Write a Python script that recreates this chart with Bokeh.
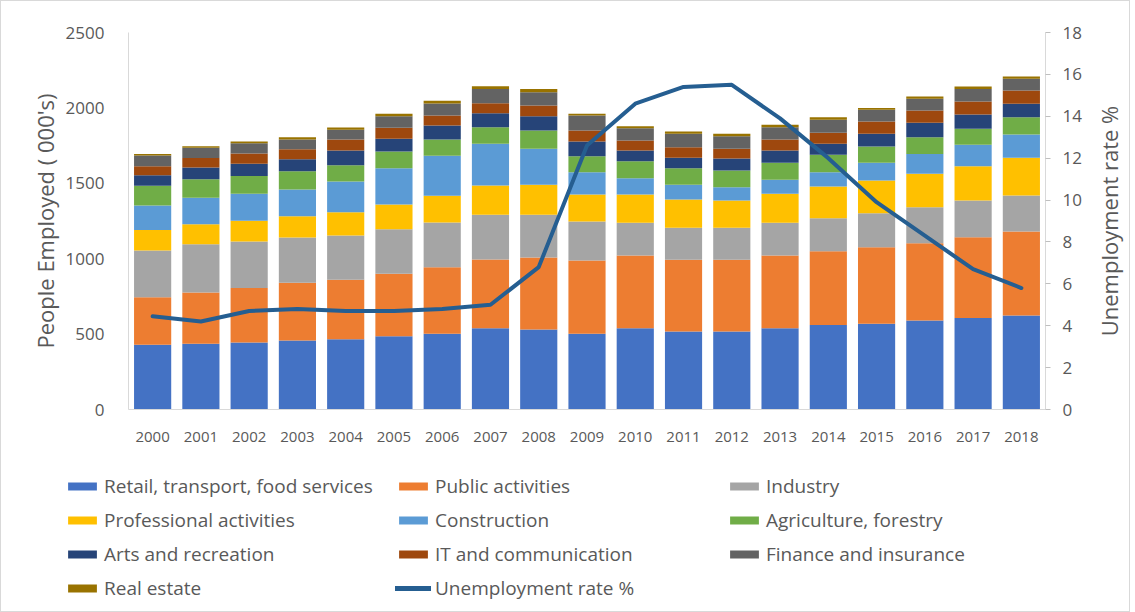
from bokeh.plotting import figure
from bokeh.layouts import column, row
from bokeh.models import (Range1d, LinearAxis, FactorRange, Legend, LegendItem,
                          ColumnDataSource, Title)
from bokeh.embed import file_html
from bokeh.resources import INLINE

years = [str(y) for y in range(2000, 2019)]

retail = [429, 436, 444, 458, 466, 486, 502, 539, 530, 502, 539, 517, 517, 539, 561, 568, 590, 606, 623]
public = [316, 340, 361, 382, 394, 414, 442, 456, 478, 486, 482, 476, 476, 482, 489, 508, 513, 537, 557]
industry = [309, 320, 309, 301, 294, 296, 296, 296, 283, 259, 217, 212, 212, 217, 219, 226, 239, 243, 239]
professional = [137, 133, 137, 141, 154, 163, 177, 194, 199, 179, 188, 188, 181, 192, 210, 216, 221, 227, 250]
construction = [162, 175, 179, 177, 204, 241, 265, 277, 239, 148, 108, 97, 88, 93, 95, 118, 132, 142, 155]
agriculture = [130, 123, 119, 121, 108, 111, 108, 110, 121, 106, 113, 110, 111, 113, 115, 108, 111, 106, 114]
arts = [71, 78, 80, 80, 97, 84, 93, 93, 95, 97, 70, 69, 79, 81, 73, 84, 95, 95, 89]
it_comm = [59, 62, 69, 66, 73, 73, 67, 66, 71, 73, 67, 70, 65, 73, 73, 82, 82, 86, 88]
finance = [71, 68, 68, 64, 65, 77, 79, 95, 88, 100, 81, 89, 83, 82, 86, 77, 77, 84, 78]
real_estate = [11, 11, 11, 16, 15, 16, 18, 18, 22, 11, 14, 15, 16, 16, 17, 13, 15, 16, 15]

unemployment = [4.45, 4.2, 4.7, 4.8, 4.7, 4.7, 4.8, 5.0, 6.8, 12.6, 14.6, 15.4, 15.5, 13.9, 12.0, 9.9, 8.3, 6.7, 5.8]

series_keys = ["retail", "public", "industry", "professional", "construction",
               "agriculture", "arts", "it", "finance", "realestate"]
series_labels = ["Retail, transport, food services", "Public activities", "Industry",
                 "Professional activities", "Construction", "Agriculture, forestry",
                 "Arts and recreation", "IT and communication", "Finance and insurance",
                 "Real estate"]
series_colors = ["#4472C4", "#ED7D31", "#A5A5A5", "#FFC000", "#5B9BD5",
                 "#70AD47", "#264478", "#9E480E", "#636363", "#997300"]
line_label = "Unemployment rate %"
line_color = "#255E91"

left_ticks = [0, 500, 1000, 1500, 2000, 2500]
right_ticks = [0, 2, 4, 6, 8, 10, 12, 14, 16, 18]

data = dict(years=years, retail=retail, public=public, industry=industry,
            professional=professional, construction=construction,
            agriculture=agriculture, arts=arts, it=it_comm, finance=finance,
            realestate=real_estate, rate=unemployment)
src = ColumnDataSource(data)

FONT = "Open Sans"
GREY = "#595959"
W = 1128
PW = 1090
H = 452

xr = FactorRange(factors=years, range_padding=0)
p = figure(width=PW, height=H, x_range=xr,
           y_range=Range1d(0, 2500), output_backend="svg", toolbar_location=None,
           min_border_left=127, min_border_right=46, min_border_top=31, min_border_bottom=44)
p.frame_align = False
p.outline_line_color = None
p.xgrid.grid_line_color = None
p.ygrid.grid_line_color = None

p.vbar_stack(series_keys, x="years", width=0.77, source=src,
             color=series_colors, line_color=None)

p.extra_y_ranges = {"u": Range1d(0, 18)}
p.line(x="years", y="rate", source=src, y_range_name="u", line_color=line_color,
       line_width=4, line_cap="round", line_join="round")

# left axis
ya = p.yaxis[0]
ya.ticker = left_ticks
ya.axis_label = "People Employed ( 000's)"
ya.axis_label_text_font = FONT
ya.axis_label_text_font_size = "22px"
ya.axis_label_text_font_style = "normal"
ya.axis_label_text_color = GREY
ya.axis_label_standoff = 3
ya.major_label_text_font = FONT
ya.major_label_text_font_size = "17px"
ya.major_label_text_color = GREY
ya.major_label_standoff = 18
ya.axis_line_color = "#d9d9d9"
ya.major_tick_line_color = None
ya.minor_tick_line_color = None

# right axis (its title is drawn in the narrow panel to the right, reading upwards)
ra = LinearAxis(y_range_name="u", ticker=right_ticks)
ra.major_label_text_font = FONT
ra.major_label_text_font_size = "17px"
ra.major_label_text_color = GREY
ra.major_label_standoff = 12
ra.axis_line_color = "#d9d9d9"
ra.major_tick_line_color = "#bfbfbf"
ra.major_tick_in = 0
ra.major_tick_out = 5
ra.minor_tick_line_color = None
p.add_layout(ra, "right")

# x axis
xa = p.xaxis[0]
xa.major_label_text_font = FONT
xa.major_label_text_font_size = "15px"
xa.major_label_text_color = GREY
xa.major_label_standoff = 16
xa.axis_line_color = "#d9d9d9"
xa.major_tick_line_color = None
xa.minor_tick_line_color = None

# right-axis title panel
rf = figure(width=W - PW, height=H, output_backend="svg", toolbar_location=None,
            min_border_left=0, min_border_right=0, min_border_top=31, min_border_bottom=44)
rf.frame_align = False
rf.outline_line_color = None
rf.axis.visible = False
rf.grid.visible = False
rf.add_layout(Title(text=line_label, align="center", text_font=FONT, text_font_size="22px",
                    text_font_style="normal", text_color=GREY, standoff=0, offset=0), "left")

# legend panel: same series as hidden renderers, only their legend swatches show
lg = figure(width=W, height=158, x_range=xr, y_range=Range1d(0, 2500), output_backend="svg",
            toolbar_location=None, min_border=0)
lg.frame_align = False
lg.outline_line_color = None
lg.axis.visible = False
lg.grid.visible = False
sw = lg.vbar_stack(series_keys, x="years", width=0.77, source=src,
                   color=series_colors, line_color=None)
sw_line = lg.line(x="years", y="rate", source=src, line_color=line_color, line_width=5,
                  line_cap="round")
for r in list(sw) + [sw_line]:
    r.visible = False

items = [LegendItem(label=lab, renderers=[r]) for lab, r in zip(series_labels, sw)]
items.append(LegendItem(label=line_label, renderers=[sw_line]))
legend = Legend(items=items, orientation="horizontal", ncols=3,
                location=(63, 10), padding=0, margin=0,
                glyph_width=36, glyph_height=10, label_height=26, label_width=283,
                label_standoff=4, spacing=8,
                label_text_font=FONT, label_text_font_size="19px", label_text_color=GREY,
                border_line_color=None, background_fill_alpha=0,
                inactive_fill_alpha=0)
lg.add_layout(legend, "center")

layout = column(row(p, rf, spacing=0), lg, spacing=0)
layout.styles = {"border": "1px solid #d9d9d9"}

open("out.html", "w").write(file_html(layout, INLINE))
